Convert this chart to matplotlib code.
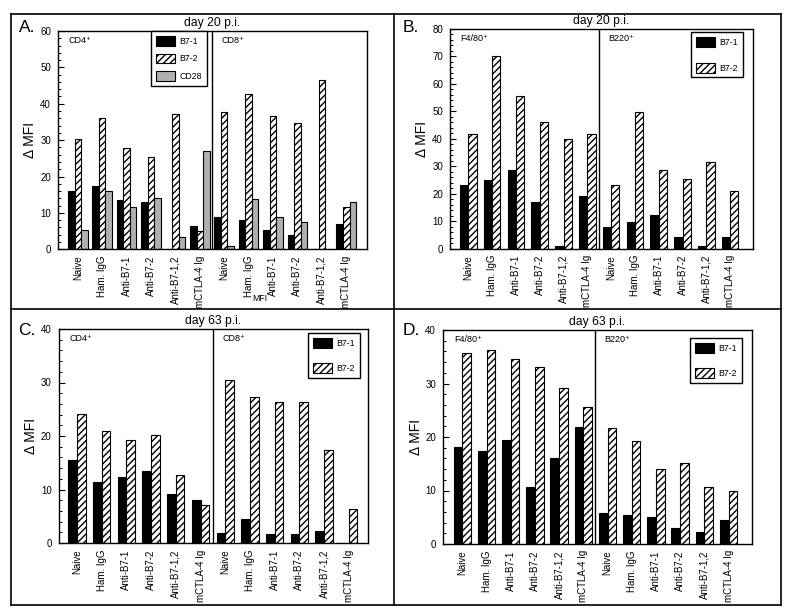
import matplotlib
matplotlib.use("Agg")
import matplotlib.pyplot as plt
import numpy as np
from matplotlib.patches import Patch
from matplotlib.lines import Line2D
from matplotlib.ticker import MultipleLocator

plt.rcParams['font.family'] = ['Liberation Sans', 'DejaVu Sans']
plt.rcParams['hatch.linewidth'] = 1.0

categories = ["Naive", "Ham. IgG", "Anti-B7-1", "Anti-B7-2", "Anti-B7-1,2", "mCTLA-4 Ig"]
tick_labels = categories * 2

A_b71 = [15.9, 17.4, 13.5, 12.9, 0, 6.3, 8.9, 8.0, 5.2, 4.0, 0, 6.9]
A_b72 = [30.3, 36.1, 27.8, 25.3, 37.2, 4.9, 37.6, 42.6, 36.6, 34.6, 46.4, 11.7]
A_cd28 = [5.2, 16.1, 11.7, 14.2, 3.3, 27.0, 0.8, 13.9, 8.8, 7.5, 0, 12.9]

B_b71 = [23.0, 24.9, 28.7, 17.1, 1.0, 19.2, 7.8, 9.6, 12.2, 4.1, 1.0, 4.1]
B_b72 = [41.6, 70.2, 55.6, 46.0, 39.8, 41.6, 23.0, 49.6, 28.8, 25.3, 31.7, 21.0]

C_b71 = [15.6, 11.4, 12.3, 13.4, 9.1, 8.0, 1.9, 4.5, 1.75, 1.6, 2.25, 0]
C_b72 = [24.1, 20.9, 19.3, 20.2, 12.75, 7.1, 30.5, 27.3, 26.3, 26.4, 17.4, 6.4]

D_b71 = [18.2, 17.4, 19.5, 10.7, 16.0, 21.9, 5.75, 5.4, 5.1, 3.0, 2.3, 4.5]
D_b72 = [35.7, 36.2, 34.5, 33.0, 29.2, 25.7, 21.6, 19.2, 14.1, 15.2, 10.6, 10.0]

W, H = 788, 612
fig = plt.figure(figsize=(W / 100, H / 100), dpi=100)


def px_axes(x0, x1, ytop, ybot):
    return fig.add_axes([x0 / W, 1 - ybot / H, (x1 - x0) / W, (ybot - ytop) / H])


STY = {
    "B7-1": dict(facecolor="black", edgecolor="black", hatch=None),
    "B7-2": dict(facecolor="white", edgecolor="black", hatch="/////"),
    "CD28": dict(facecolor="#b0b0b0", edgecolor="black", hatch=None),
}


def panel(ax, series, names, width, ymax, xlim, title, groups, leg_anchor, leg_loc, labelspacing):
    x = np.arange(len(tick_labels))
    n = len(series)
    offs = (np.arange(n) - (n - 1) / 2) * width
    for vals, name, o in zip(series, names, offs):
        s = STY[name]
        ax.bar(x + o, vals, width=width, facecolor=s["facecolor"], edgecolor="black",
               hatch=s["hatch"], linewidth=0.8, zorder=2)
    ax.set_xlim(*xlim)
    ax.set_ylim(0, ymax)
    ax.axvline(5.5, color="black", lw=1.0, zorder=3)
    ax.set_xticks(x)
    ax.set_xticklabels(tick_labels, rotation=90, fontsize=7)
    ax.tick_params(axis="x", length=0, pad=4.5)
    ax.yaxis.set_major_locator(MultipleLocator(10))
    ax.yaxis.set_minor_locator(MultipleLocator(2))
    ax.tick_params(axis="y", which="major", direction="in", length=4, width=0.8, labelsize=7, pad=5)
    ax.tick_params(axis="y", which="minor", direction="in", length=2.2, width=0.7)
    for sp in ax.spines.values():
        sp.set_linewidth(1.0)
    ax.set_ylabel("Δ MFI", fontsize=10, labelpad=2)
    ax.set_title(title, fontsize=8.7, pad=3.5)
    ax.text(0.035, 0.975, groups[0], transform=ax.transAxes, fontsize=6.5, va="top", ha="left")
    xd = (5.5 - xlim[0]) / (xlim[1] - xlim[0])
    ax.text(xd + 0.03, 0.975, groups[1], transform=ax.transAxes, fontsize=6.5, va="top", ha="left")
    handles = [Patch(facecolor=STY[nm]["facecolor"], edgecolor="black", hatch=STY[nm]["hatch"],
                     linewidth=0.8, label=nm) for nm in names]
    leg = ax.legend(handles=handles, loc=leg_loc, bbox_to_anchor=leg_anchor, borderaxespad=0,
                    fontsize=6.3, handlelength=2.2, handleheight=1.35, handletextpad=0.5,
                    labelspacing=labelspacing, borderpad=0.55, fancybox=False, framealpha=1)
    leg.get_frame().set_edgecolor("black")
    leg.get_frame().set_linewidth(1.0)
    return ax


axA = px_axes(58, 367, 31, 249.3)
panel(axA, [A_b71, A_b72, A_cd28], ["B7-1", "B7-2", "CD28"], 0.267, 60, (-0.81, 11.85),
      "day 20 p.i.", ["CD4⁺", "CD8⁺"], (0.301, 1.0), "upper left", 0.9)

axB = px_axes(450, 753, 28.7, 248.7)
panel(axB, [B_b71, B_b72], ["B7-1", "B7-2"], 0.35, 80, (-0.77, 11.96),
      "day 20 p.i.", ["F4/80⁺", "B220⁺"], (0.967, 0.985), "upper right", 1.85)

axC = px_axes(58.7, 368, 329, 543)
panel(axC, [C_b71, C_b72], ["B7-1", "B7-2"], 0.35, 40, (-0.74, 11.78),
      "day 63 p.i.", ["CD4⁺", "CD8⁺"], (0.974, 0.981), "upper right", 1.75)

axD = px_axes(443, 752, 330, 544)
panel(axD, [D_b71, D_b72], ["B7-1", "B7-2"], 0.36, 40, (-0.8, 11.97),
      "day 63 p.i.", ["F4/80⁺", "B220⁺"], (0.968, 0.963), "upper right", 1.75)

# panel letters
for lx, ly, t in [(19, 32, "A."), (403, 32, "B."), (18, 335, "C."), (403, 335, "D.")]:
    fig.text(lx / W, 1 - ly / H, t, fontsize=12.5, ha="left", va="baseline")

# stray text fragment in panel A
fig.text(267 / W, 1 - 301 / H, "MFI", fontsize=6.3, ha="right", va="baseline")

# outer panel frames
def fline(x0, y0, x1, y1):
    fig.add_artist(Line2D([x0 / W, x1 / W], [1 - y0 / H, 1 - y1 / H], color="black", lw=1.2,
                          transform=fig.transFigure))

L, R, T, B = 11, 781, 13.5, 605
fline(L, T, R, T)
fline(L, B, R, B)
fline(L, T, L, B)
fline(R, T, R, B)
fline(394, T, 394, B)
fline(L, 309, R, 309)

fig.savefig("out.png", dpi=100)
